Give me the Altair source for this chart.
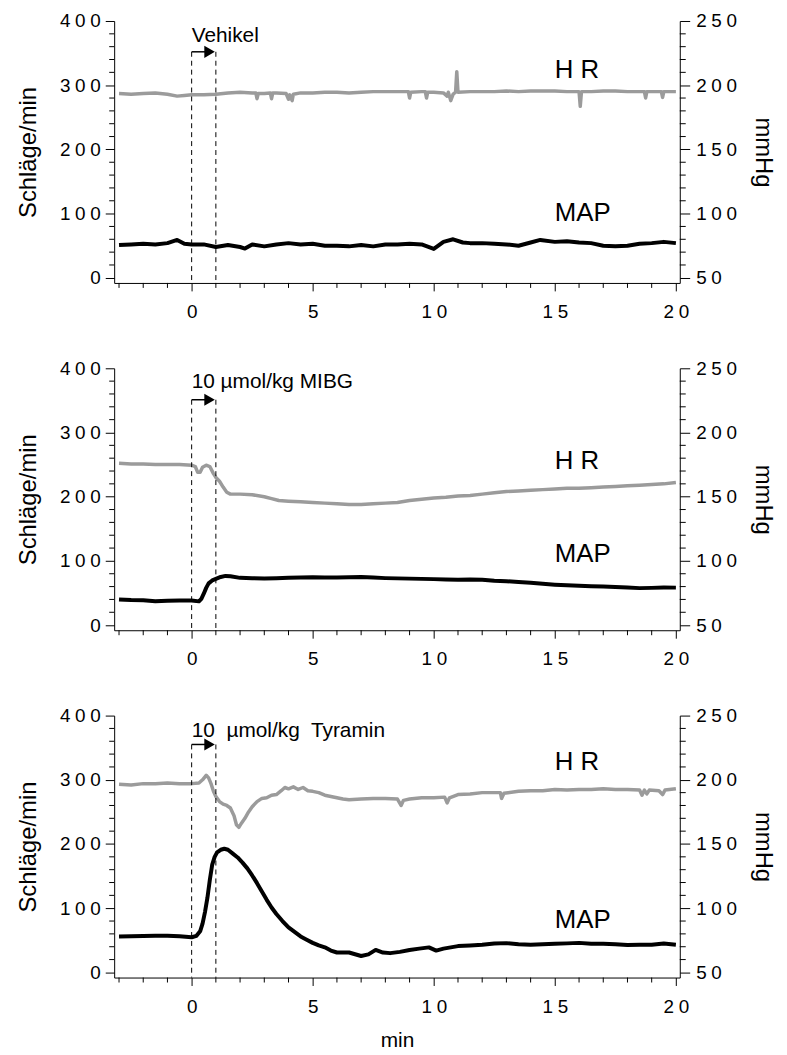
import altair as alt
import pandas as pd

FONT = "Liberation Sans"
SP = "\u2005"
NB = "\u00a0"

# ---------------- data ----------------
# Panel 1: Vehikel
hr1_t = [-3, -2.5, -2, -1.5, -1, -0.6, -0.3, 0, 0.5, 1, 1.5, 2, 2.5, 2.65, 2.7, 2.75, 3, 3.25, 3.3, 3.35,
         3.5, 3.9, 4.0, 4.05, 4.15, 4.2, 4.5, 5, 5.5, 6, 6.5, 7, 7.5, 8, 8.5, 8.95, 9.0, 9.05, 9.5, 9.65,
         9.7, 9.75, 10, 10.4, 10.55, 10.6, 10.7, 10.8, 10.9, 10.95, 11.0, 11.5, 12, 12.5, 13, 13.5, 14,
         14.5, 15, 15.5, 16, 16.05, 16.1, 16.5, 17, 17.5, 18, 18.5, 18.7, 18.75, 18.8, 19, 19.4, 19.45,
         19.5, 20]
hr1_v = [287, 286, 287, 288, 286, 283, 284, 285, 285, 286, 288, 289, 288, 288, 279, 287, 287, 288, 279, 288,
         288, 287, 278, 285, 276, 286, 288, 288, 289, 289, 288, 289, 290, 290, 290, 290, 280, 289, 290, 290,
         280, 289, 289, 288, 283, 289, 276, 286, 289, 321, 289, 290, 290, 290, 291, 290, 291,
         291, 291, 290, 290, 267, 290, 290, 291, 291, 290, 290, 290, 280, 290, 290, 290, 281,
         290, 290]
map1_t = [-3, -2.5, -2, -1.5, -1, -0.6, -0.3, 0, 0.5, 1, 1.5, 2, 2.2, 2.5, 3, 3.5, 4, 4.5, 5, 5.5, 6, 6.5,
          7, 7.5, 8, 8.5, 9, 9.5, 10, 10.4, 10.8, 11.2, 11.5, 12, 12.5, 13, 13.5, 14, 14.4, 15, 15.5, 16,
          16.5, 17, 17.5, 18, 18.5, 19, 19.5, 20]
map1_v = [75.5, 76, 76.5, 76, 77, 79.5, 76.5, 76, 76, 74, 75.5, 74, 72.8, 76, 74.5, 76, 77, 76, 76.5, 75,
          75, 74.5, 75.5, 74.5, 76, 76, 76.5, 76, 72.5, 78, 80, 77.5, 77, 77, 76.5, 76, 75, 77.5, 79.5,
          78, 78.5, 77.5, 77, 75, 74.5, 75, 76.5, 77, 78, 77]

# Panel 2: 10 µmol/kg MIBG
hr2_t = [-3, -2.5, -2, -1.5, -1, -0.5, 0, 0.15, 0.25, 0.35, 0.45, 0.6, 0.75, 0.9, 1.0, 1.15, 1.3, 1.45,
         1.6, 2, 2.5, 3, 3.3, 3.6, 4, 4.5, 5, 5.5, 6, 6.5, 7, 7.5, 8, 8.5, 9, 9.5, 10, 10.5, 11, 11.5, 12,
         12.5, 13, 13.5, 14, 14.5, 15, 15.5, 16, 16.5, 17, 17.5, 18, 18.5, 19, 19.5, 20]
hr2_v = [252, 251, 251, 250, 250, 250, 249, 247, 238, 238, 246, 249, 247, 236, 230, 224, 215, 207,
         204, 204, 203, 200, 197, 194, 193, 192, 191, 190, 189, 188, 188, 189, 190, 191, 194, 196, 198,
         199, 201, 202, 204, 206, 208, 209, 210, 211, 212, 213, 213, 214, 215, 216, 217, 218, 219, 220, 222]
map2_t = [-3, -2.5, -2, -1.5, -1, -0.5, 0, 0.3, 0.4, 0.5, 0.6, 0.7, 0.85, 1.0, 1.2, 1.4, 1.6, 2, 2.5, 3,
          3.5, 4, 4.5, 5, 5.5, 6, 6.5, 7, 7.5, 8, 8.5, 9, 9.5, 10, 10.5, 11, 11.5, 12, 12.5, 13, 13.5, 14,
          14.5, 15, 15.5, 16, 16.5, 17, 17.5, 18, 18.5, 19, 19.5, 20]
map2_v = [70, 69.5, 69.3, 68.6, 69, 69.2, 69.2, 68.5, 70.5, 74.5, 79, 82.5, 84.8, 86, 87.5, 88.3, 88, 86.8,
          86.5, 86.3, 86.5, 86.8, 87, 87.3, 87, 87, 87.2, 87.5, 87, 86.6, 86.4, 86.2, 86, 85.8, 85.6, 85.3,
          85.5, 85.3, 84.6, 84.2, 83.6, 83, 82.2, 81.5, 81, 80.6, 80.2, 80, 79.6, 79.3, 78.8, 79, 79.3, 79.2]

# Panel 3: 10 µmol/kg Tyramin
hr3_t = [-3, -2.5, -2, -1.5, -1, -0.5, 0, 0.3, 0.45, 0.6, 0.7, 0.8, 0.9, 1.0, 1.15, 1.3, 1.45, 1.6, 1.75,
         1.85, 1.95, 2.05, 2.2, 2.35, 2.5, 2.7, 2.9, 3.1, 3.3, 3.5, 3.7, 3.85, 4.0, 4.2, 4.4, 4.6, 4.8,
         5.0, 5.25, 5.5, 5.75, 6, 6.25, 6.5, 7, 7.5, 8, 8.5, 8.65, 8.75, 9, 9.5, 10, 10.45, 10.55, 10.65,
         11, 11.5, 12, 12.5, 12.75, 12.8, 12.9, 13.5, 14, 14.5, 15, 15.5, 16, 16.5, 17, 17.5, 18, 18.5,
         18.6, 18.7, 18.8, 18.9, 19.3, 19.45, 19.55, 20]
hr3_v = [293, 292, 294, 294, 295, 294, 294, 295, 300, 307, 303, 294, 282, 274, 266, 262, 260, 256, 244,
         230, 226, 232, 240, 250, 258, 266, 271, 272, 276, 277, 283, 288, 286, 289, 285, 288, 283,
         282, 280, 276, 274, 272, 270, 269, 270, 271, 271, 270, 260, 268, 270, 272, 272, 273, 264, 272,
         277, 278, 280, 280, 280, 271, 279, 282, 283, 283, 285, 284, 285, 285, 286, 285, 285, 284,
         276, 284, 278, 284, 283, 277, 284, 286]
map3_t = [-3, -2.5, -2, -1.5, -1, -0.5, 0, 0.2, 0.35, 0.45, 0.55, 0.65, 0.75, 0.85, 0.95, 1.05, 1.2, 1.35,
          1.5, 1.7, 1.9, 2.1, 2.3, 2.5, 2.7, 2.9, 3.1, 3.3, 3.5, 3.75, 4.0, 4.25, 4.5, 4.75, 5.0, 5.25,
          5.5, 5.75, 6.0, 6.5, 7.0, 7.3, 7.6, 7.9, 8.2, 8.6, 9.0, 9.4, 9.8, 10.1, 10.4, 11, 11.5, 12, 12.5,
          13, 13.5, 14, 14.5, 15, 15.5, 16, 16.5, 17, 17.5, 18, 18.5, 19, 19.5, 20]
map3_v = [78, 78.2, 78.4, 78.5, 78.6, 78.2, 77.4, 78.5, 82, 88, 97, 108, 122, 134, 140, 143.5, 145.5, 146.3,
          145.5, 142.5, 139.5, 135.5, 131, 125.5, 119.5, 113, 106.5, 100.5, 95.5, 90, 85, 81.5, 78, 75.5,
          73, 71, 69.5, 67, 65.5, 65.5, 62.8, 64, 67.5, 65.5, 65, 66, 67.5, 68.5, 69.5, 67, 68.5, 70.5, 71,
          71.5, 72.5, 72.8, 72, 71.5, 72, 72.3, 72.6, 73, 72.3, 72.3, 72, 71.3, 71.5, 71.5, 72.5, 71.5]

# annotations
treat_labels = ["Vehikel", "10 µmol/kg MIBG", "10" + NB + " µmol/kg" + NB + " Tyramin"]
treat_text_y = [368, 369, 367]      # Schläge/min units
arrow_y = [352, 351, 355]
hr_label_y = [311, 243, 315]
map_label_y = [88, 99, 69]
series_labels = ["H R", "MAP"]
inject_t = [0, 1]                   # injection window, min

# tick values
x_major = [0, 5, 10, 15, 20]
x_minor = [v for v in range(-3, 21) if v % 5 != 0]
l_major = [0, 100, 200, 300, 400]
l_minor = [v for v in range(0, 401, 20) if v % 100 != 0]
r_major = [50, 100, 150, 200, 250]
r_minor = [v for v in range(50, 251, 10) if v % 50 != 0]

# ---------------- scales / axes ----------------
XDOM = [-3.2, 20.16]
LDOM = [-8, 400]
RDOM = [46, 250]
W, H = 570, 264
MINOR = 5

LBL = f"join(split(datum.label, ''), '{SP}')"


def x_axis(title):
    return alt.Axis(values=x_major, labelExpr=LBL, tickSize=8, labelPadding=12,
                    labelOverlap=False, labelFlush=False, title=title, titlePadding=13,
                    titleFontSize=21)


left_axis = alt.Axis(values=l_major, labelExpr=LBL, tickSize=9, labelPadding=5,
                     labelOverlap=False, labelFlush=False, title="Schläge/min", titlePadding=19)

right_axis = alt.Axis(orient="right", values=r_major, labelExpr=LBL, tickSize=10, labelPadding=6,
                      labelOverlap=False, labelFlush=False, title="mmHg", titlePadding=14)


def panel(i, hr_t, hr_v, map_t, map_v, xtitle):
    xs = alt.Scale(domain=XDOM, nice=False, zero=False)
    ls = alt.Scale(domain=LDOM, nice=False, zero=False)
    rs = alt.Scale(domain=RDOM, nice=False, zero=False)
    X = alt.X("t:Q", scale=xs, axis=x_axis(xtitle))
    Y = alt.Y("v:Q", scale=ls, axis=left_axis)
    YR = alt.Y("m:Q", scale=rs, axis=right_axis)

    hr = alt.Chart(pd.DataFrame({"t": hr_t, "v": hr_v})).mark_line(
        color="#9b9b9b", strokeWidth=3.5, strokeJoin="round").encode(x=X, y=Y)

    rules = alt.Chart(pd.DataFrame({"t": inject_t, "v": [arrow_y[i]] * 2, "v2": [LDOM[0]] * 2})).mark_rule(
        color="black", strokeWidth=1, strokeDash=[5, 4]).encode(x=X, y=Y, y2="v2:Q")

    arr = alt.Chart(pd.DataFrame({"t": [inject_t[0]], "t2": [0.6], "v": [arrow_y[i]]})).mark_rule(
        color="black", strokeWidth=1.5).encode(x=X, x2="t2:Q", y=Y)

    head = alt.Chart(pd.DataFrame({"t": [0.74], "v": [arrow_y[i]]})).mark_point(
        shape="triangle-right", filled=True, color="black", size=150, opacity=1).encode(x=X, y=Y)

    txt = alt.Chart(pd.DataFrame({"t": [inject_t[0]], "v": [treat_text_y[i]], "s": [treat_labels[i]]})).mark_text(
        align="left", baseline="alphabetic", font=FONT, fontSize=21, color="black").encode(x=X, y=Y, text="s:N")

    lbl = alt.Chart(pd.DataFrame({"t": [15, 15], "v": [hr_label_y[i], map_label_y[i]], "s": series_labels})).mark_text(
        align="left", baseline="alphabetic", font=FONT, fontSize=26, color="black").encode(x=X, y=Y, text="s:N")

    # minor ticks of the left and bottom axes
    lmin = alt.Chart(pd.DataFrame({"v": l_minor})).mark_rule(color="black", strokeWidth=1).encode(
        y=Y, x=alt.value(-MINOR), x2=alt.value(0))
    xmin = alt.Chart(pd.DataFrame({"t": x_minor})).mark_rule(color="black", strokeWidth=1).encode(
        x=X, y=alt.value(H), y2=alt.value(H + MINOR))

    left = alt.layer(hr, rules, arr, head, txt, lbl, lmin, xmin)

    mp = alt.Chart(pd.DataFrame({"t": map_t, "m": map_v})).mark_line(
        color="black", strokeWidth=4, strokeJoin="round").encode(x=X, y=YR)
    rmin = alt.Chart(pd.DataFrame({"m": r_minor})).mark_rule(color="black", strokeWidth=1).encode(
        y=YR, x=alt.value(W), x2=alt.value(W + MINOR + 1))
    right = alt.layer(mp, rmin)

    return alt.layer(left, right).resolve_scale(y="independent").properties(width=W, height=H)


p1 = panel(0, hr1_t, hr1_v, map1_t, map1_v, None)
p2 = panel(1, hr2_t, hr2_v, map2_t, map2_v, None)
p3 = panel(2, hr3_t, hr3_v, map3_t, map3_v, "min")

chart = alt.vconcat(p1, p2, p3, spacing=38).configure_view(stroke=None).configure_axis(
    grid=False,
    domainColor="black",
    domainWidth=1,
    tickColor="black",
    tickWidth=1,
    labelColor="black",
    labelFont=FONT,
    labelFontSize=19,
    titleFont=FONT,
    titleFontSize=24,
    titleFontWeight="normal",
    titleColor="black",
).properties(background="white", padding={"left": 8, "top": 0, "right": 4, "bottom": 5})

chart.save("out.html", embed_options={"renderer": "svg", "actions": False})
